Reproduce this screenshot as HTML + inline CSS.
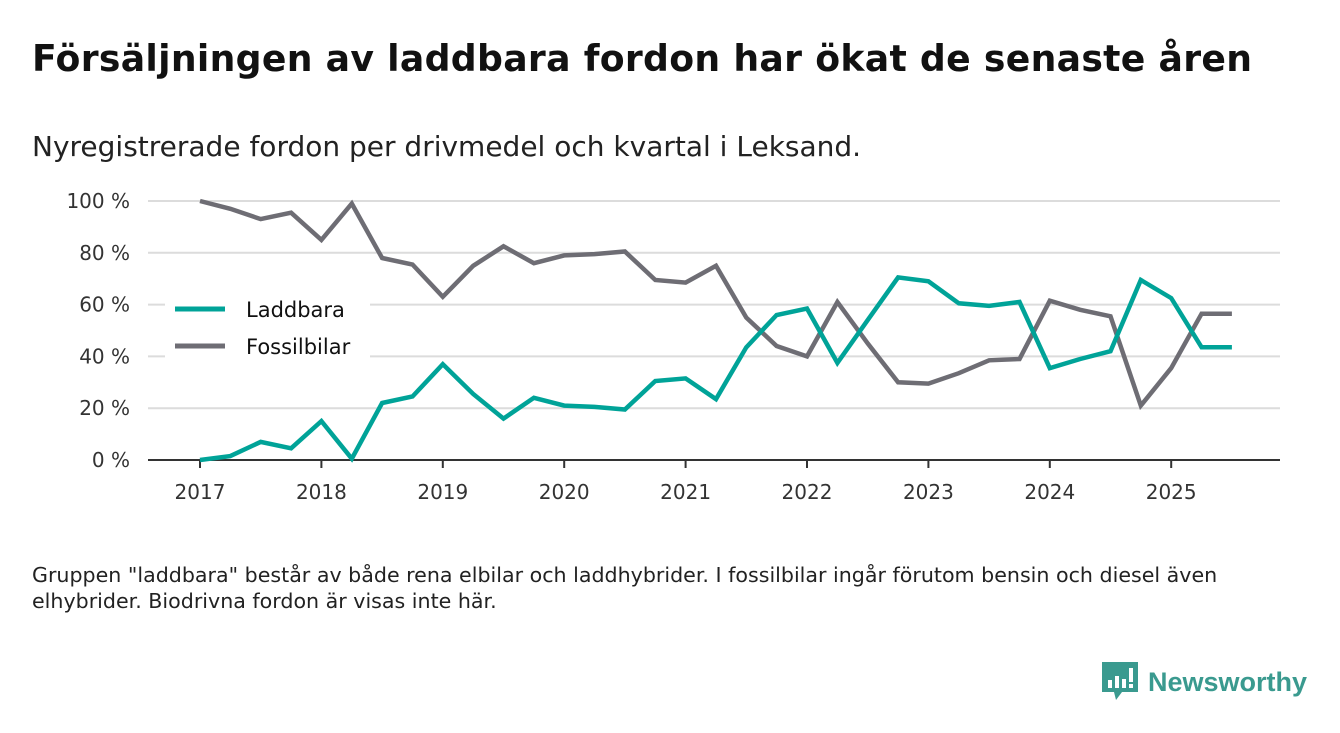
<!DOCTYPE html>
<html><head><meta charset="utf-8"><style>
body{margin:0;width:1340px;height:733px;background:#fff;font-family:"DejaVu Sans","Liberation Sans",sans-serif;overflow:hidden;position:relative}
h1{position:absolute;left:32px;top:37px;margin:0;font-size:36.2px;font-weight:bold;color:#111;letter-spacing:0.3px;white-space:nowrap}
.sub{position:absolute;left:32px;top:130px;font-size:28px;color:#222;white-space:nowrap}
.note{position:absolute;left:32px;top:562px;font-size:20.6px;color:#222;line-height:26px;width:1245px}
.logo{position:absolute;left:1102px;top:662px;display:flex;align-items:center}
.logo span{font-family:"Liberation Sans",sans-serif;font-size:27px;font-weight:bold;color:#3a9a8f;margin-left:10px}
svg text{font-family:"DejaVu Sans","Liberation Sans",sans-serif}
</style></head><body>
<h1>Försäljningen av laddbara fordon har ökat de senaste åren</h1>
<div class="sub">Nyregistrerade fordon per drivmedel och kvartal i Leksand.</div>
<svg id="chart" width="1340" height="733" style="position:absolute;left:0;top:0"></svg>
<div class="note">Gruppen "laddbara" består av både rena elbilar och laddhybrider. I fossilbilar ingår förutom bensin och diesel även elhybrider. Biodrivna fordon är visas inte här.</div>
<div class="logo">
<svg width="36" height="40" viewBox="0 0 36 40"><path d="M0 0H36V30H20L14 38L12 30H0Z" fill="#3a9a8f"/><rect x="6" y="18" width="4" height="8" fill="#fff"/><rect x="13" y="14" width="4" height="12" fill="#fff"/><rect x="20" y="17" width="4" height="9" fill="#fff"/><rect x="27" y="6" width="4" height="14" fill="#fff"/><rect x="27" y="22" width="4" height="4" fill="#fff"/></svg>
<span>Newsworthy</span></div>
<script>
const years=[2017,2018,2019,2020,2021,2022,2023,2024,2025];
const yTicks=[0,20,40,60,80,100];
const laddbara=[0,1.5,7,4.5,15,0.5,22,24.5,37,25.5,16,24,21,20.5,19.5,30.5,31.5,23.5,43.5,56,58.5,37.5,54,70.5,69,60.5,59.5,61,35.5,39,42,69.5,62.5,43.5,43.5];
const fossil=[100,97,93,95.5,85,99,78,75.5,63,75,82.5,76,79,79.5,80.5,69.5,68.5,75,55,44,40,61,45,30,29.5,33.5,38.5,39,61.5,58,55.5,21,35.5,56.5,56.5];
const NS="http://www.w3.org/2000/svg";
const svg=document.getElementById('chart');
const x=t=>200+(t-2017)*121.4;
const y=v=>460-v*2.59;
function mk(tag,attrs,parent){const e=document.createElementNS(NS,tag);for(const k in attrs)e.setAttribute(k,attrs[k]);(parent||svg).appendChild(e);return e;}
yTicks.forEach(v=>{
 if(v>0){const g=mk('line',{x1:148,x2:1280,y1:y(v),y2:y(v),stroke:'#dcdcdc','stroke-width':2});
 
 }
 const t=mk('text',{x:130,y:y(v)+7,'text-anchor':'end','font-size':20,fill:'#333'});t.textContent=v+' %';
 
 
});
const ax=mk('line',{x1:148,x2:1280,y1:460,y2:460,stroke:'#333','stroke-width':2});


years.forEach(yr=>{
 mk('line',{x1:x(yr),x2:x(yr),y1:460,y2:468,stroke:'#333','stroke-width':2});
 const t=mk('text',{x:x(yr),y:499,'text-anchor':'middle','font-size':20,fill:'#333'});t.textContent=yr;
 
 
});
mk('rect',{x:165,y:290,width:205,height:75,fill:'#fff'});
[['Laddbara','#00a398',309],['Fossilbilar','#6e6d74',346]].forEach(([n,c,yy])=>{
 const l=mk('line',{x1:175,x2:225,y1:yy,y2:yy,stroke:c,'stroke-width':5});
 
 
 const t=mk('text',{x:246,y:yy+8,'font-size':21,fill:'#111'});t.textContent=n;
 
 
});
function line(data,color,name){
 const pts=data.map((v,i)=>x(2017+i/4).toFixed(1)+','+y(v).toFixed(1)).join(' ');
 const p=mk('polyline',{points:pts,fill:'none',stroke:color,'stroke-width':4.5,'stroke-linejoin':'miter'});
 
 
}
line(fossil,'#6e6d74','fossilbilar-line');
line(laddbara,'#00a398','laddbara-line');
</script>
</body></html>
